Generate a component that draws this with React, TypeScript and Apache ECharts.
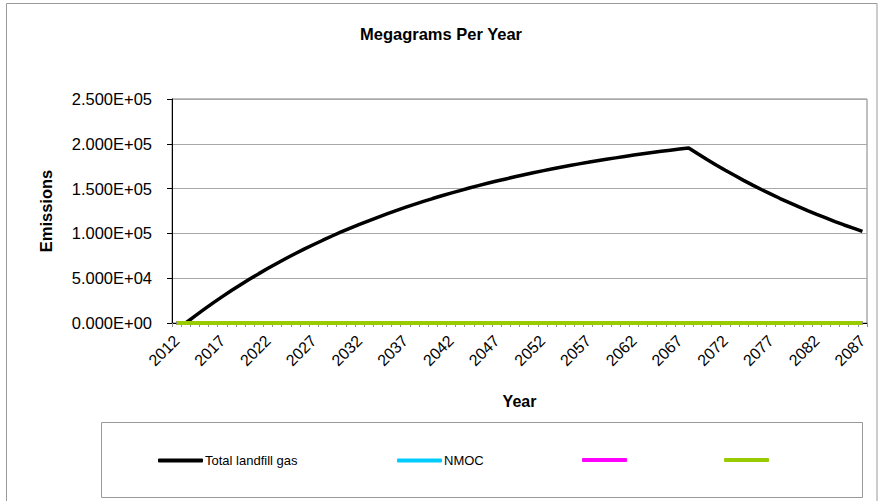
import React, { useEffect, useRef } from 'react';
import * as echarts from 'echarts';

const years = [
  '2012', '2013', '2014', '2015', '2016', '2017', '2018', '2019', '2020', '2021',
  '2022', '2023', '2024', '2025', '2026', '2027', '2028', '2029', '2030', '2031',
  '2032', '2033', '2034', '2035', '2036', '2037', '2038', '2039', '2040', '2041',
  '2042', '2043', '2044', '2045', '2046', '2047', '2048', '2049', '2050', '2051',
  '2052', '2053', '2054', '2055', '2056', '2057', '2058', '2059', '2060', '2061',
  '2062', '2063', '2064', '2065', '2066', '2067', '2068', '2069', '2070', '2071',
  '2072', '2073', '2074', '2075', '2076', '2077', '2078', '2079', '2080', '2081',
  '2082', '2083', '2084', '2085', '2086', '2087',
];

const totalLandfillGas = [
  0, 0, 7700, 15200, 22400, 29400, 36200, 42700, 49000, 55100,
  61000, 66700, 72200, 77500, 82700, 87600, 92400, 97100, 101600, 105900,
  110100, 114100, 118000, 121800, 125500, 129000, 132400, 135700, 138900, 142000,
  145000, 147800, 150600, 153300, 155900, 158400, 160800, 163200, 165500, 167700,
  169800, 171800, 173800, 175700, 177600, 179300, 181100, 182700, 184300, 185900,
  187400, 188900, 190300, 191600, 192900, 194200, 195400, 188900, 182500, 176400,
  170500, 164800, 159200, 153900, 148700, 143800, 138900, 134300, 129800, 125400,
  121200, 117200, 113200, 109400, 105800, 102200,
];

const nmoc = [
  0, 0, 0, 0, 0, 0, 0, 0, 0, 0, 0, 0, 0, 0, 0, 0, 0, 0, 0, 0,
  0, 0, 0, 0, 0, 0, 0, 0, 0, 0, 0, 0, 0, 0, 0, 0, 0, 0, 0, 0,
  0, 0, 0, 0, 0, 0, 0, 0, 0, 0, 0, 0, 0, 0, 0, 0, 0, 0, 0, 0,
  0, 0, 0, 0, 0, 0, 0, 0, 0, 0, 0, 0, 0, 0, 0, 0,
];

const series3Values = [
  0, 0, 0, 0, 0, 0, 0, 0, 0, 0, 0, 0, 0, 0, 0, 0, 0, 0, 0, 0,
  0, 0, 0, 0, 0, 0, 0, 0, 0, 0, 0, 0, 0, 0, 0, 0, 0, 0, 0, 0,
  0, 0, 0, 0, 0, 0, 0, 0, 0, 0, 0, 0, 0, 0, 0, 0, 0, 0, 0, 0,
  0, 0, 0, 0, 0, 0, 0, 0, 0, 0, 0, 0, 0, 0, 0, 0,
];

const series4Values = [
  0, 0, 0, 0, 0, 0, 0, 0, 0, 0, 0, 0, 0, 0, 0, 0, 0, 0, 0, 0,
  0, 0, 0, 0, 0, 0, 0, 0, 0, 0, 0, 0, 0, 0, 0, 0, 0, 0, 0, 0,
  0, 0, 0, 0, 0, 0, 0, 0, 0, 0, 0, 0, 0, 0, 0, 0, 0, 0, 0, 0,
  0, 0, 0, 0, 0, 0, 0, 0, 0, 0, 0, 0, 0, 0, 0, 0,
];

const yMin = 0;
const yMax = 250000;
const yStep = 50000;

const FONT = '"Liberation Sans", Arial, Helvetica, sans-serif';

function fmtExp(v: number): string {
  const s = Number(v).toExponential(3);
  const [m, e] = s.split('e');
  const sign = e[0] === '-' ? '-' : '+';
  const digits = e.replace('+', '').replace('-', '').padStart(2, '0');
  return `${m}E${sign}${digits}`;
}

export default function App() {
  const ref = useRef<HTMLDivElement>(null);

  useEffect(() => {
    if (!ref.current) return;
    const chart = echarts.init(ref.current, null, { renderer: 'svg' });

    const legendCommon = {
      top: 454,
      padding: 0,
      icon: 'roundRect',
      itemWidth: 45,
      itemHeight: 4,
      selectedMode: false,
      textStyle: { fontFamily: FONT, fontSize: 13, color: '#000', padding: [0, 0, 0, -3] },
    };

    chart.setOption({
      animation: false,
      backgroundColor: '#ffffff',
      title: {
        text: 'Megagrams Per Year',
        left: 436,
        textAlign: 'center',
        top: 20,
        textStyle: { fontFamily: FONT, fontSize: 16.5, fontWeight: 'bold', color: '#000' },
      },
      graphic: [
        {
          type: 'rect',
          shape: { x: 6.5, y: 3.5, width: 870.5, height: 520 },
          style: { fill: 'none', stroke: '#9a9a9a', lineWidth: 1 },
          silent: true,
          z: -10,
        },
        {
          type: 'rect',
          shape: { x: 101.5, y: 422.5, width: 761, height: 75 },
          style: { fill: 'none', stroke: '#9a9a9a', lineWidth: 1 },
          silent: true,
          z: -10,
        },
      ],
      legend: [
        { ...legendCommon, left: 158, data: ['Total landfill gas'] },
        { ...legendCommon, left: 397, data: ['NMOC'] },
        { ...legendCommon, top: 458, left: 582, data: ['Series 3'], formatter: () => '' },
        { ...legendCommon, top: 458, left: 724, data: ['Series 4'], formatter: () => '' },
      ],
      grid: {
        left: 172,
        right: 11,
        top: 99,
        bottom: 178,
        show: true,
        borderColor: '#808080',
        borderWidth: 1,
        outerBoundsMode: 'none',
      },
      xAxis: {
        type: 'category',
        data: years,
        boundaryGap: true,
        name: 'Year',
        nameLocation: 'middle',
        nameGap: 70,
        nameTextStyle: { fontFamily: FONT, fontSize: 16, fontWeight: 'bold', color: '#000' },
        axisLine: { show: true, lineStyle: { color: '#000', width: 1 } },
        axisTick: { show: true, interval: 0, length: 4, lineStyle: { color: '#909090' } },
        axisLabel: {
          interval: 4,
          rotate: 45,
          margin: 15,
          fontFamily: FONT,
          fontSize: 16,
          color: '#000',
        },
        splitLine: { show: false },
      },
      yAxis: {
        type: 'value',
        min: yMin,
        max: yMax,
        interval: yStep,
        name: 'Emissions',
        nameLocation: 'middle',
        nameRotate: 90,
        nameGap: 118,
        nameTextStyle: { fontFamily: FONT, fontSize: 16.5, fontWeight: 'bold', color: '#000' },
        axisLine: { show: true, lineStyle: { color: '#000', width: 1 } },
        axisTick: { show: true, length: 5, lineStyle: { color: '#000' } },
        axisLabel: {
          formatter: (v: number) => fmtExp(v),
          margin: 20,
          fontFamily: FONT,
          fontSize: 16.5,
          color: '#000',
        },
        splitLine: { show: true, lineStyle: { color: '#a8a8a8', width: 1 } },
      },
      series: [
        {
          name: 'Total landfill gas',
          type: 'line',
          data: totalLandfillGas,
          symbol: 'none',
          color: '#000000',
          lineStyle: { color: '#000000', width: 3.5 },
        },
        {
          name: 'NMOC',
          type: 'line',
          data: nmoc,
          symbol: 'none',
          color: '#00ccff',
          lineStyle: { color: '#00ccff', width: 4 },
        },
        {
          name: 'Series 3',
          type: 'line',
          data: series3Values,
          symbol: 'none',
          color: '#ff00ff',
          lineStyle: { color: '#ff00ff', width: 4 },
        },
        {
          name: 'Series 4',
          type: 'line',
          data: series4Values,
          symbol: 'none',
          color: '#99cc00',
          lineStyle: { color: '#99cc00', width: 4 },
        },
      ],
    });

    return () => chart.dispose();
  }, []);

  return (
    <div
      ref={ref}
      style={{ position: 'fixed', left: 0, top: 0, width: 878, height: 501, background: '#fff' }}
    />
  );
}
